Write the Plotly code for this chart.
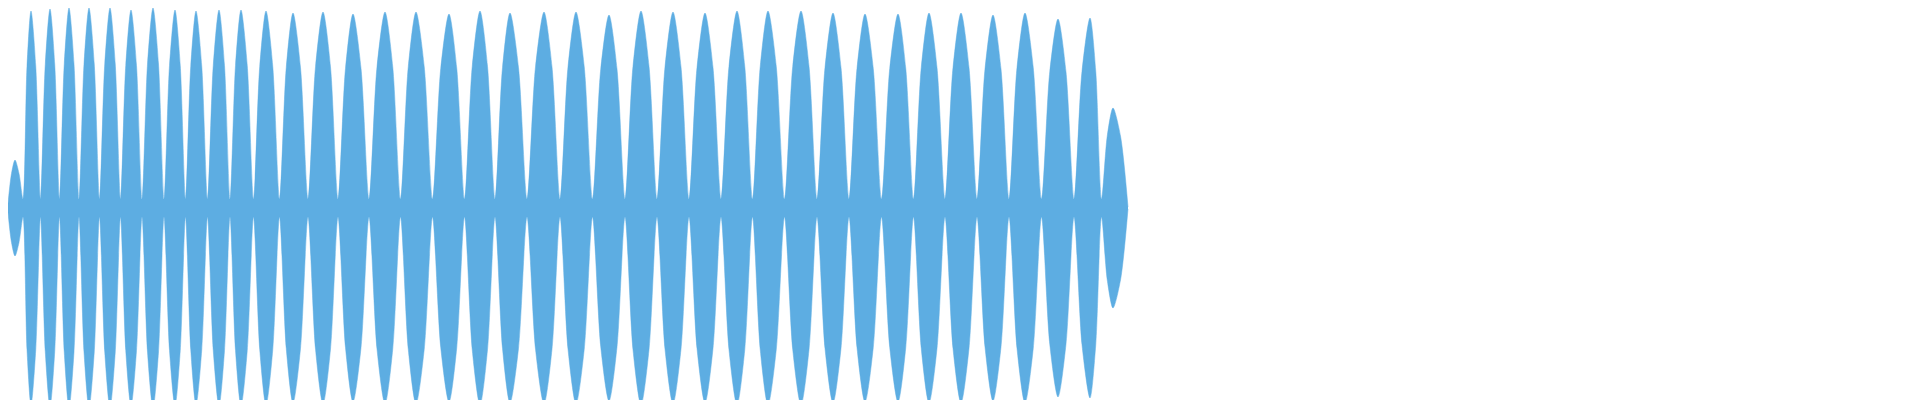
import plotly.graph_objects as go

# lobe centres (time) and peak amplitudes
peak_t = [7, 23, 42, 61, 81, 102, 123, 145, 167, 188, 211, 233, 258, 285, 315, 345,
          377, 408, 441, 472, 502, 536, 568, 601, 633, 665, 697, 729, 760, 793, 825,
          857, 890, 921, 953, 985, 1017, 1050, 1082, 1105]
peak_amp = [48, 197, 199, 200, 200, 200, 198, 200, 198, 197, 198, 198, 197, 195, 196,
            194, 196, 196, 194, 197, 195, 196, 196, 193, 197, 196, 195, 197, 197, 197,
            195, 194, 194, 195, 195, 193, 195, 189, 190, 100]
neck_amp = 9
start_t, end_t = 0, 1120
shoulder = 0.72  # lobe roundness: amplitude halfway between neck and peak

# necks between lobes
necks = [start_t] + [(peak_t[i] + peak_t[i + 1]) / 2 for i in range(len(peak_t) - 1)] + [end_t]

t = [start_t]
a = [neck_amp / 2]
for i, (pt, pa) in enumerate(zip(peak_t, peak_amp)):
    left, right = necks[i], necks[i + 1]
    t += [(left + pt) / 2, pt, (pt + right) / 2]
    a += [pa * shoulder, pa, pa * shoulder]
    if i < len(peak_t) - 1:
        t.append(right)
        a.append(neck_amp)
t.append(end_t)
a.append(1)

col = "#5dade2"
fig = go.Figure()
fig.add_trace(go.Scatter(x=t, y=a, mode="lines", line=dict(color=col, width=0.5, shape="spline", smoothing=0.8),
                         hoverinfo="skip"))
fig.add_trace(go.Scatter(x=t, y=[-v for v in a], mode="lines", fill="tonexty", fillcolor=col,
                         line=dict(color=col, width=0.5, shape="spline", smoothing=0.8), hoverinfo="skip"))

fig.update_layout(
    width=1920, height=400,
    margin=dict(l=0, r=0, t=0, b=0),
    paper_bgcolor="white", plot_bgcolor="white",
    showlegend=False,
    xaxis=dict(range=[0, 1920], visible=False),
    yaxis=dict(range=[-200, 200], visible=False),
)
fig.write_html("out.html")
